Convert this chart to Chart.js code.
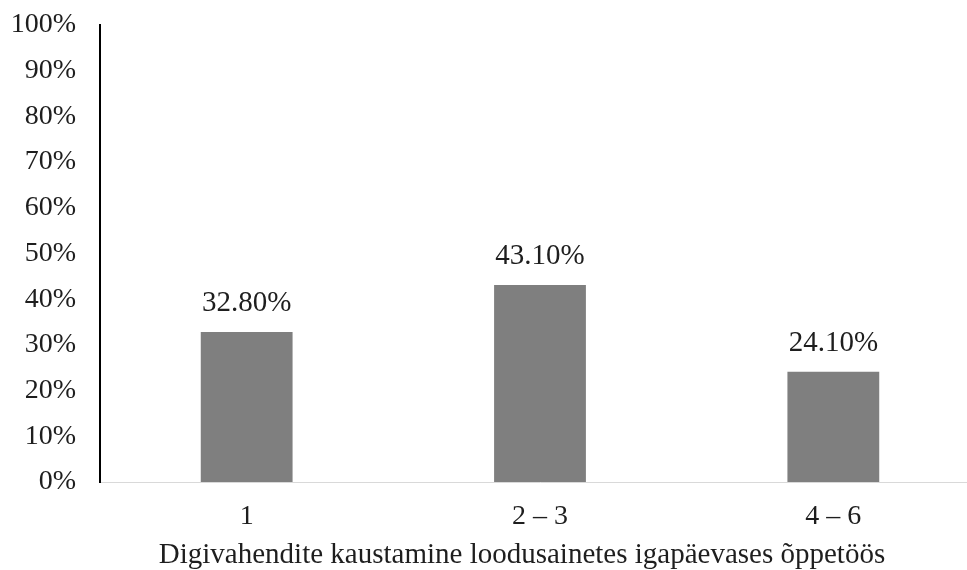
<!DOCTYPE html>
<html>
<head>
<meta charset="utf-8">
<script src="https://cdn.jsdelivr.net/npm/chart.js@4/dist/chart.umd.min.js"></script>
<style>
  html, body { margin: 0; padding: 0; background: #fff; overflow: hidden; }
  #wrap { width: 981px; height: 570px; }
</style>
</head>
<body>
<div id="wrap"><canvas id="c"></canvas></div>
<script>
// Number of digital tools used per day in science lessons
const categories = ['1', '2 \u2013 3', '4 \u2013 6'];
const shares = [32.8, 43.1, 24.1];
const yTicks = [0, 10, 20, 30, 40, 50, 60, 70, 80, 90, 100];
const xTitle = 'Digivahendite kaustamine loodusainetes igapäevases õppetöös';

const serif = '"Liberation Serif", "Times New Roman", serif';
const ink = '#1e1e1e';

// Writes each bar's value above it, and the category axis title below the labels
const annotations = {
  id: 'annotations',
  afterDatasetsDraw(chart) {
    const ctx = chart.ctx;
    const meta = chart.getDatasetMeta(0);
    ctx.save();
    ctx.font = '29px ' + serif;
    ctx.fillStyle = ink;
    ctx.textAlign = 'center';
    ctx.textBaseline = 'alphabetic';
    meta.data.forEach((bar, i) => {
      ctx.fillText(shares[i].toFixed(2) + '%', bar.x, bar.y - 21);
    });
    ctx.restore();
  },
  afterDraw(chart) {
    const ctx = chart.ctx;
    const area = chart.chartArea;
    ctx.save();
    ctx.font = '29px ' + serif;
    ctx.fillStyle = ink;
    ctx.textAlign = 'center';
    ctx.textBaseline = 'alphabetic';
    ctx.fillText(xTitle, area.left + 422, area.bottom + 81);
    ctx.restore();
  }
};

new Chart(document.getElementById('c'), {
  type: 'bar',
  data: {
    labels: categories,
    datasets: [{
      data: shares,
      backgroundColor: '#7f7f7f',
      borderWidth: 0,
      categoryPercentage: 1,
      barPercentage: 0.313
    }]
  },
  options: {
    responsive: true,
    maintainAspectRatio: false,
    animation: false,
    layout: { padding: { top: 25, right: 1, bottom: 0, left: 0 } },
    plugins: {
      legend: { display: false },
      tooltip: { enabled: false }
    },
    scales: {
      x: {
        grid: { display: false, drawTicks: false },
        border: { display: true, color: '#d9d9d9', width: 1 },
        ticks: {
          color: ink,
          font: { family: serif, size: 28 },
          padding: 18,
          maxRotation: 0
        },
        afterFit(scale) { scale.height = 88; }
      },
      y: {
        min: 0,
        max: 100,
        grid: { display: false, drawTicks: false },
        border: { display: true, color: '#000', width: 2 },
        afterBuildTicks(scale) {
          scale.ticks = yTicks.map(v => ({ value: v }));
        },
        ticks: {
          color: ink,
          font: { family: serif, size: 28 },
          padding: 24,
          callback: v => v + '%'
        },
        afterFit(scale) {
          scale.width = 100;
          scale.paddingTop = 0;
          scale.paddingBottom = 0;
        }
      }
    }
  },
  plugins: [annotations]
});
</script>
</body>
</html>
